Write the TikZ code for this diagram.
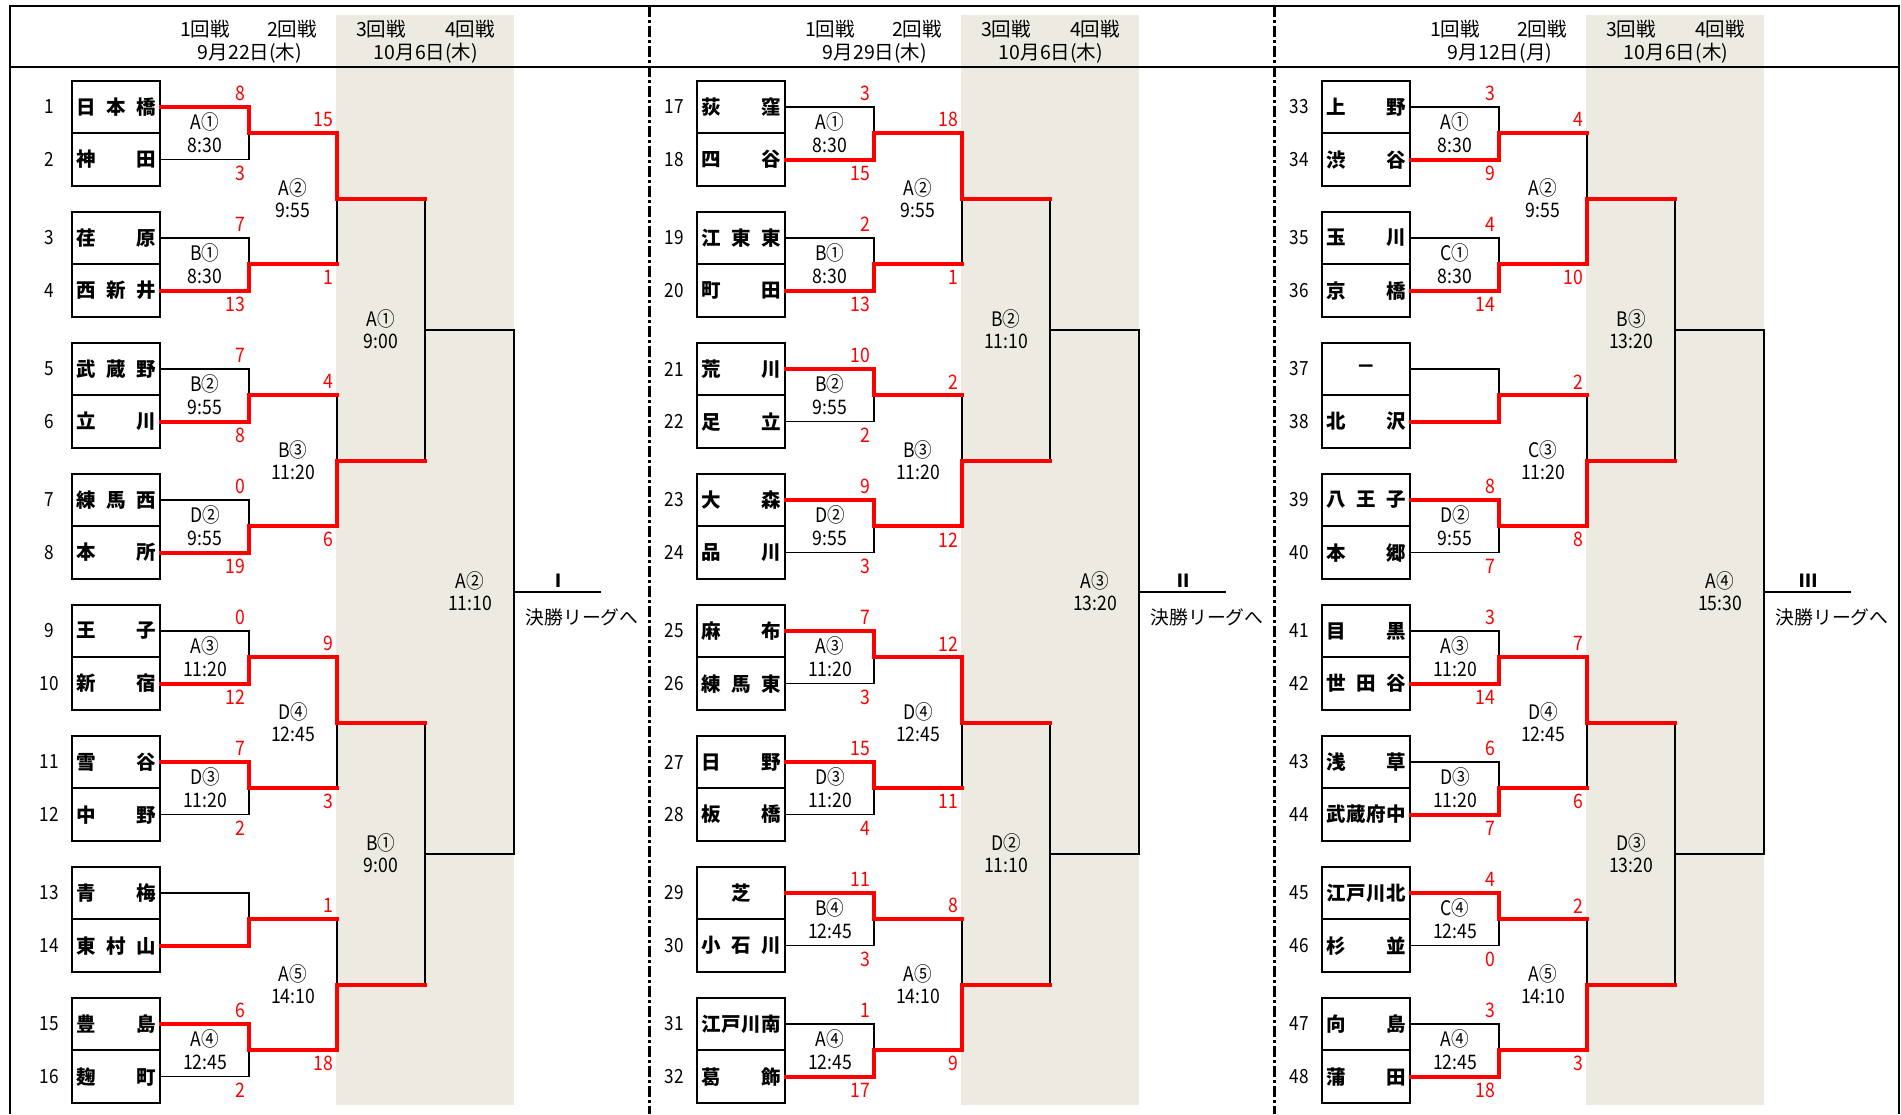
\documentclass[tikz,border=0pt]{standalone}
\usepackage{fontspec}
\setmainfont{Noto Sans CJK JP}
\newfontfamily\narrow{Noto Sans CJK JP}[FakeStretch=0.88]
\usetikzlibrary{calc}
\definecolor{band}{RGB}{236,234,225}

\tikzset{
  wire/.style={line width=1.5pt},
  win/.style={red, line width=4pt, line cap=rect},
  frame/.style={line width=2pt},
  divide/.style={line width=3pt, dash pattern=on 11pt off 3pt on 3pt off 3pt},
  team/.style={draw, line width=2pt, minimum width=88pt, minimum height=52.6pt, inner sep=0pt, font=\bfseries\fontsize{19.5}{19.5}\selectfont},
  num/.style={inner sep=0pt, font=\narrow\fontsize{19.5}{19.5}\selectfont},
  code/.style={inner sep=0pt, font=\narrow\fontsize{20}{20}\selectfont},
  pts/.style={red, anchor=east, inner sep=0pt, font=\narrow\fontsize{20}{20}\selectfont},
  head/.style={inner sep=0pt, font=\fontsize{19.5}{19.5}\selectfont},
  rom/.style={inner sep=0pt, font=\bfseries\fontsize{18}{18}\selectfont},
  note/.style={inner sep=0pt, font=\fontsize{18.8}{18.8}\selectfont}
}

% column headings of one block
\newcommand\header[2]{%
  \node[head] (#1h1) at (205,29) {1回戦};
  \node[head] (#1h2) at (292,29) {2回戦};
  \node[head] (#1h3) at (381,29) {3回戦};
  \node[head] (#1h4) at (470,29) {4回戦};
  \node[head] (#1d1) at (250,53) {#2};
  \node[head] (#1d2) at (426,53) {10月6日(木)};
}

% sixteen school boxes, #1 = number before the first one
\newcommand\teamcol[2]{%
  \foreach \nm [count=\i] in {#2} {
    \pgfmathtruncatemacro\no{#1+\i}
    \pgfmathsetmacro\ty{107+131*int((\i-1)/2)+52.6*mod(\i-1,2)}
    \node[team] (t\no) at (116,\ty) {\makebox[80pt][s]{\nm}};
    \node[num] (n\no) at (49,\ty) {\no};
  }
}

% meeting points of the bracket
\newcommand\bracketgrid[1]{%
  \foreach \k in {1,...,8} {\coordinate (#11\k) at (249,{133.3+131*(\k-1)});}
  \foreach \k in {1,...,4} {\coordinate (#12\k) at (337,{198.8+262*(\k-1)});}
  \foreach \k in {1,2} {\coordinate (#13\k) at (425,{329.8+524*(\k-1)});}
  \coordinate (#141) at (514,591.8);
  \coordinate (#1go) at (601,591.8);
}

% played game: match, upper, lower, code, time, upper score, lower score
\newcommand\game[7]{%
  \draw[wire] (#2) -| (#1) |- (#3);
  \node[code] (#1c) at ($(#1)+(-44,-11)$) {#4};
  \node[code] (#1t) at ($(#1)+(-44,12)$) {#5};
  \node[pts] (#1u) at ($(#2 -| #1)+(-4,-13.5)$) {#6};
  \node[pts] (#1l) at ($(#3 -| #1)+(-4,13.5)$) {#7};
}
% game still to come: match, upper, lower, code, time
\newcommand\pending[5]{%
  \draw[wire] (#2) -| (#1) |- (#3);
  \node[code] (#1c) at ($(#1)+(-44,-11)$) {#4};
  \node[code] (#1t) at ($(#1)+(-44,12)$) {#5};
}
\newcommand\finalto[2]{%
  \draw[wire] (#141) -- (#1go);
  \node[rom] (#1rom) at ($(#1go)+(-43,-11)$) {#2};
  \node[note] (#1note) at ($(#1go)+(-19,26)$) {決勝リーグへ};
}

\begin{document}
\begin{tikzpicture}[x=1pt,y=-1pt]
  \useasboundingbox (0,0) rectangle (1901,1114);

  % block I
  \begin{scope}
    \fill[band] (336,15) rectangle (514,1105);
    \header{L}{9月22日(木)}
    \teamcol{0}{日\hfill 本\hfill 橋,神\hfill 田,荏\hfill 原,西\hfill 新\hfill 井,武\hfill 蔵\hfill 野,立\hfill 川,練\hfill 馬\hfill 西,本\hfill 所,王\hfill 子,新\hfill 宿,雪\hfill 谷,中\hfill 野,青\hfill 梅,東\hfill 村\hfill 山,豊\hfill 島,麹\hfill 町}
    \bracketgrid{L}
    \game{L11}{t1.east}{t2.east}{A①}{8:30}{8}{3}
    \game{L12}{t3.east}{t4.east}{B①}{8:30}{7}{13}
    \game{L13}{t5.east}{t6.east}{B②}{9:55}{7}{8}
    \game{L14}{t7.east}{t8.east}{D②}{9:55}{0}{19}
    \game{L15}{t9.east}{t10.east}{A③}{11:20}{0}{12}
    \game{L16}{t11.east}{t12.east}{D③}{11:20}{7}{2}
    \draw[wire] (t13.east) -| (L17) |- (t14.east);
    \game{L18}{t15.east}{t16.east}{A④}{12:45}{6}{2}
    \game{L21}{L11}{L12}{A②}{9:55}{15}{1}
    \game{L22}{L13}{L14}{B③}{11:20}{4}{6}
    \game{L23}{L15}{L16}{D④}{12:45}{9}{3}
    \game{L24}{L17}{L18}{A⑤}{14:10}{1}{18}
    \pending{L31}{L21}{L22}{A①}{9:00}
    \pending{L32}{L23}{L24}{B①}{9:00}
    \pending{L41}{L31}{L32}{A②}{11:10}
    \finalto{L}{Ⅰ}
    \draw[win] (t1.east) -| (L11) -| (L21) -- (L21 -| L31);
    \draw[win] (t4.east) -| (L12) -- (L12 -| L21);
    \draw[win] (t6.east) -| (L13) -- (L13 -| L22);
    \draw[win] (t8.east) -| (L14) -| (L22) -- (L22 -| L31);
    \draw[win] (t10.east) -| (L15) -| (L23) -- (L23 -| L32);
    \draw[win] (t11.east) -| (L16) -- (L16 -| L23);
    \draw[win] (t14.east) -| (L17) -- (L17 -| L24);
    \draw[win] (t15.east) -| (L18) -| (L24) -- (L24 -| L32);
  \end{scope}

  % block II
  \begin{scope}[xshift=625pt]
    \fill[band] (336,15) rectangle (514,1105);
    \header{M}{9月29日(木)}
    \teamcol{16}{荻\hfill 窪,四\hfill 谷,江\hfill 東\hfill 東,町\hfill 田,荒\hfill 川,足\hfill 立,大\hfill 森,品\hfill 川,麻\hfill 布,練\hfill 馬\hfill 東,日\hfill 野,板\hfill 橋,\hfill 芝\hfill,小\hfill 石\hfill 川,江\hfill 戸\hfill 川\hfill 南,葛\hfill 飾}
    \bracketgrid{M}
    \game{M11}{t17.east}{t18.east}{A①}{8:30}{3}{15}
    \game{M12}{t19.east}{t20.east}{B①}{8:30}{2}{13}
    \game{M13}{t21.east}{t22.east}{B②}{9:55}{10}{2}
    \game{M14}{t23.east}{t24.east}{D②}{9:55}{9}{3}
    \game{M15}{t25.east}{t26.east}{A③}{11:20}{7}{3}
    \game{M16}{t27.east}{t28.east}{D③}{11:20}{15}{4}
    \game{M17}{t29.east}{t30.east}{B④}{12:45}{11}{3}
    \game{M18}{t31.east}{t32.east}{A④}{12:45}{1}{17}
    \game{M21}{M11}{M12}{A②}{9:55}{18}{1}
    \game{M22}{M13}{M14}{B③}{11:20}{2}{12}
    \game{M23}{M15}{M16}{D④}{12:45}{12}{11}
    \game{M24}{M17}{M18}{A⑤}{14:10}{8}{9}
    \pending{M31}{M21}{M22}{B②}{11:10}
    \pending{M32}{M23}{M24}{D②}{11:10}
    \pending{M41}{M31}{M32}{A③}{13:20}
    \finalto{M}{Ⅱ}
    \draw[win] (t18.east) -| (M11) -| (M21) -- (M21 -| M31);
    \draw[win] (t20.east) -| (M12) -- (M12 -| M21);
    \draw[win] (t21.east) -| (M13) -- (M13 -| M22);
    \draw[win] (t23.east) -| (M14) -| (M22) -- (M22 -| M31);
    \draw[win] (t25.east) -| (M15) -| (M23) -- (M23 -| M32);
    \draw[win] (t27.east) -| (M16) -- (M16 -| M23);
    \draw[win] (t29.east) -| (M17) -- (M17 -| M24);
    \draw[win] (t32.east) -| (M18) -| (M24) -- (M24 -| M32);
  \end{scope}

  % block III
  \begin{scope}[xshift=1250pt]
    \fill[band] (336,15) rectangle (514,1105);
    \header{R}{9月12日(月)}
    \teamcol{32}{上\hfill 野,渋\hfill 谷,玉\hfill 川,京\hfill 橋,\hfill －\hfill,北\hfill 沢,八\hfill 王\hfill 子,本\hfill 郷,目\hfill 黒,世\hfill 田\hfill 谷,浅\hfill 草,武\hfill 蔵\hfill 府\hfill 中,江\hfill 戸\hfill 川\hfill 北,杉\hfill 並,向\hfill 島,蒲\hfill 田}
    \bracketgrid{R}
    \game{R11}{t33.east}{t34.east}{A①}{8:30}{3}{9}
    \game{R12}{t35.east}{t36.east}{C①}{8:30}{4}{14}
    \draw[wire] (t37.east) -| (R13) |- (t38.east);
    \game{R14}{t39.east}{t40.east}{D②}{9:55}{8}{7}
    \game{R15}{t41.east}{t42.east}{A③}{11:20}{3}{14}
    \game{R16}{t43.east}{t44.east}{D③}{11:20}{6}{7}
    \game{R17}{t45.east}{t46.east}{C④}{12:45}{4}{0}
    \game{R18}{t47.east}{t48.east}{A④}{12:45}{3}{18}
    \game{R21}{R11}{R12}{A②}{9:55}{4}{10}
    \game{R22}{R13}{R14}{C③}{11:20}{2}{8}
    \game{R23}{R15}{R16}{D④}{12:45}{7}{6}
    \game{R24}{R17}{R18}{A⑤}{14:10}{2}{3}
    \pending{R31}{R21}{R22}{B③}{13:20}
    \pending{R32}{R23}{R24}{D③}{13:20}
    \pending{R41}{R31}{R32}{A④}{15:30}
    \finalto{R}{Ⅲ}
    \draw[win] (t34.east) -| (R11) -- (R11 -| R21);
    \draw[win] (t36.east) -| (R12) -| (R21) -- (R21 -| R31);
    \draw[win] (t38.east) -| (R13) -- (R13 -| R22);
    \draw[win] (t39.east) -| (R14) -| (R22) -- (R22 -| R31);
    \draw[win] (t42.east) -| (R15) -| (R23) -- (R23 -| R32);
    \draw[win] (t44.east) -| (R16) -- (R16 -| R23);
    \draw[win] (t45.east) -| (R17) -- (R17 -| R24);
    \draw[win] (t48.east) -| (R18) -| (R24) -- (R24 -| R32);
  \end{scope}

  % frame and separators
  \draw[frame] (10,1114) -- (10,6) -- (1899,6) -- (1899,1114);
  \draw[frame] (10,67) -- (1899,67);
  \draw[divide] (649,6) -- (649,1114);
  \draw[divide] (1274,6) -- (1274,1114);
\end{tikzpicture}
\end{document}
